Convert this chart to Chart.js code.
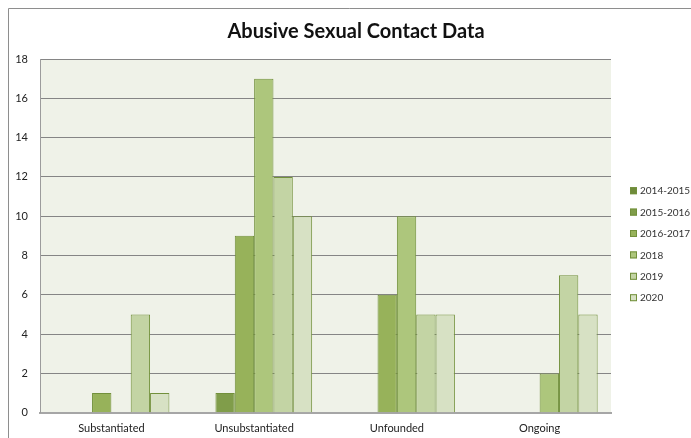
<!DOCTYPE html>
<html>
<head>
<meta charset="utf-8">
<script src="https://cdn.jsdelivr.net/npm/chart.js@4/dist/chart.umd.min.js"></script>
<style>
  html, body { margin: 0; padding: 0; background: #fff; }
  canvas { display: block; }
</style>
</head>
<body>
<canvas id="c" width="691" height="438"></canvas>
<script>
// Case outcome categories and yearly counts
const categories = ['Substantiated', 'Unsubstantiated', 'Unfounded', 'Ongoing'];
const seriesNames = ['2014-2015', '2015-2016', '2016-2017', '2018', '2019', '2020'];
const counts_2014_2015 = [0, 0, 0, 0];
const counts_2015_2016 = [0, 1, 0, 0];
const counts_2016_2017 = [1, 9, 6, 0];
const counts_2018 = [0, 17, 10, 2];
const counts_2019 = [5, 12, 5, 7];
const counts_2020 = [1, 10, 5, 5];
const yMin = 0, yMax = 18, yStep = 2;
const chartTitle = 'Abusive Sexual Contact Data';

const seriesValues = [counts_2014_2015, counts_2015_2016, counts_2016_2017, counts_2018, counts_2019, counts_2020];
const fills = ['#6f8b3b', '#809d4a', '#97b25a', '#adc67c', '#c3d4a4', '#d7e1c4'];
const edge = '#72903b';
const FONT = 'Lato, "Liberation Sans", sans-serif';

// Frame, plot background, title and legend drawn around the chart area
const decorations = {
  id: 'decorations',
  beforeDraw(chart) {
    const { ctx, chartArea: a } = chart;
    ctx.save();
    ctx.fillStyle = '#ffffff';
    ctx.fillRect(0, 0, chart.width, chart.height);
    ctx.strokeStyle = '#8e8e8e';
    ctx.lineWidth = 1;
    ctx.beginPath();
    ctx.moveTo(8.5, chart.height);
    ctx.lineTo(8.5, 8.5);
    ctx.lineTo(chart.width, 8.5);
    ctx.stroke();
    ctx.fillStyle = '#eff2e8';
    ctx.fillRect(a.left, a.top, a.right - a.left, a.bottom - a.top);
    ctx.restore();
  },
  afterDraw(chart) {
    const { ctx } = chart;
    ctx.save();
    ctx.fillStyle = '#111';
    ctx.font = 'bold 20px ' + FONT;
    ctx.textAlign = 'center';
    ctx.textBaseline = 'middle';
    ctx.fillText(chartTitle, 356, 32);

    ctx.font = '10px ' + FONT;
    ctx.textAlign = 'left';
    chart.data.datasets.forEach((ds, i) => {
      const cy = 190.7 + i * 21.4;
      ctx.fillStyle = ds.backgroundColor;
      ctx.fillRect(630, cy - 3.5, 7, 7);
      ctx.strokeStyle = ds.borderColor;
      ctx.lineWidth = 1;
      ctx.strokeRect(630.5, cy - 3, 6, 6);
      ctx.fillStyle = '#333';
      ctx.fillText(ds.label, 640, cy + 0.5);
    });
    ctx.restore();
  }
};

new Chart(document.getElementById('c'), {
  type: 'bar',
  data: {
    labels: categories,
    datasets: seriesNames.map((name, i) => ({
      label: name,
      data: seriesValues[i],
      backgroundColor: fills[i],
      borderColor: edge,
      borderWidth: 1,
      barPercentage: 1,
      categoryPercentage: 0.813
    }))
  },
  options: {
    responsive: false,
    animation: false,
    layout: { padding: { top: 59, right: 80, left: 0, bottom: 0 } },
    plugins: {
      legend: { display: false },
      title: { display: false },
      tooltip: { enabled: false }
    },
    scales: {
      x: {
        grid: { display: false, drawTicks: false },
        border: { display: true, color: '#a6a6a6', width: 2 },
        ticks: { font: { family: FONT, size: 11 }, color: '#222', padding: 9, maxRotation: 0 },
        afterFit(scale) { scale.height = 25.3; }
      },
      y: {
        min: yMin,
        max: yMax,
        ticks: { stepSize: yStep, font: { family: FONT, size: 11 }, color: '#222', padding: 12 },
        grid: { color: '#858585', drawTicks: false },
        border: { display: true, color: '#9c9c9c', width: 1 },
        afterFit(scale) { scale.width = 40; }
      }
    }
  },
  plugins: [decorations]
});
</script>
</body>
</html>
